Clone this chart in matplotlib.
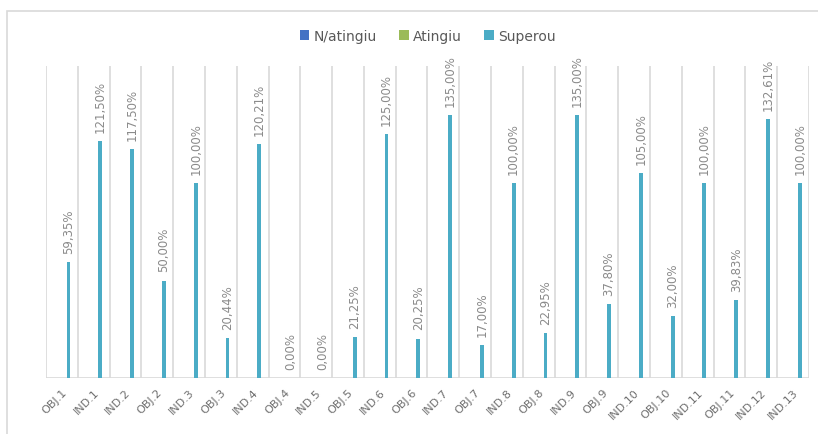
import matplotlib.pyplot as plt
import numpy as np
from matplotlib.patches import Rectangle

categories = ["OBJ.1", "IND.1", "IND.2", "OBJ.2", "IND.3", "OBJ.3", "IND.4", "OBJ.4",
              "IND.5", "OBJ.5", "IND.6", "OBJ.6", "IND.7", "OBJ.7", "IND.8", "OBJ.8",
              "IND.9", "OBJ.9", "IND.10", "OBJ.10", "IND.11", "OBJ.11", "IND.12", "IND.13"]
nao_atingiu = [0.0] * len(categories)
atingiu = [0.0] * len(categories)
superou = [59.35, 121.50, 117.50, 50.00, 100.00, 20.44, 120.21, 0.00,
           0.00, 21.25, 125.00, 20.25, 135.00, 17.00, 100.00, 22.95,
           135.00, 37.80, 105.00, 32.00, 100.00, 39.83, 132.61, 100.00]

series = [("N/atingiu", nao_atingiu, "#4472C4"),
          ("Atingiu", atingiu, "#9BBB59"),
          ("Superou", superou, "#4BACC6")]

fig = plt.figure(figsize=(8.18, 4.35), dpi=100)
ax = fig.add_axes([46 / 818, 56 / 435, 763 / 818, 312 / 435])

x = np.arange(len(categories))
offsets = [-0.21, 0.0, 0.21]
width = 0.12
for (name, vals, color), off in zip(series, offsets):
    bars = ax.bar(x + off, vals, width=width, color=color, label=name, zorder=3)
    if name == "Superou":
        for b, v in zip(bars, vals):
            ax.annotate(f"{v:.2f}%".replace(".", ","),
                        (b.get_x() + b.get_width() / 2, v),
                        xytext=(0, 6.5), textcoords="offset points",
                        rotation=90, ha="center", va="bottom",
                        fontsize=8.5, color="#8a8a8a")

ax.set_xlim(-0.5, len(categories) - 0.5)
ax.set_ylim(0, 160)

# category separators drawn as vertical grid lines
for b in np.arange(-0.5, len(categories), 1.0):
    ax.axvline(b, color="#d9d9d9", lw=1.2, zorder=1)
ax.axhline(0, color="#d9d9d9", lw=1.2, zorder=2)

ax.set_yticks([])
ax.set_xticks(x)
ax.set_xticklabels(categories, rotation=45, ha="right", rotation_mode="anchor",
                   fontsize=8, color="#6e6e6e")
ax.tick_params(axis="x", length=0, pad=6)
for s in ax.spines.values():
    s.set_visible(False)

ax.legend(loc="lower center", bbox_to_anchor=(0.5, 1.035), ncol=3, frameon=False,
          fontsize=10, labelcolor="#595959", handlelength=0.7, handleheight=0.7,
          handletextpad=0.3, columnspacing=1.6)

# light frame around the chart area
fig.patches.append(Rectangle((7 / 818, -0.01), 1.0, 1 - 12 / 435 + 0.01,
                             transform=fig.transFigure, fill=False,
                             edgecolor="#d9d9d9", lw=1.2))

fig.savefig("out.png", dpi=100)
